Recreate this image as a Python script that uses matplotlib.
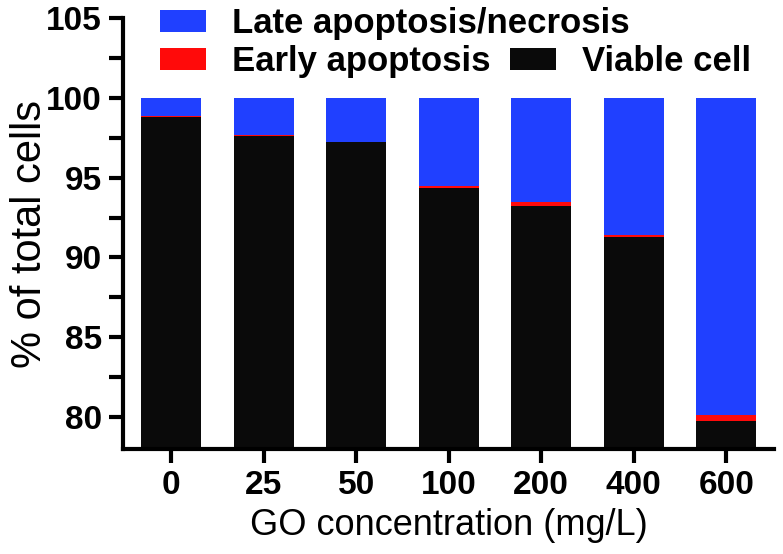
import numpy as np
import matplotlib
matplotlib.use("Agg")
import matplotlib.pyplot as plt
from matplotlib.ticker import MultipleLocator

plt.rcParams['font.family'] = ['Liberation Sans', 'DejaVu Sans']

# data
concentrations = ['0', '25', '50', '100', '200', '400', '600']
viable = [98.8, 97.6, 97.2, 94.35, 93.2, 91.3, 79.8]
early = [0.05, 0.05, 0.05, 0.1, 0.3, 0.1, 0.35]
late = [100 - v - e for v, e in zip(viable, early)]

blue = '#2040ff'
red = '#ff0a0a'
black = '#0a0a0a'

fig = plt.figure(figsize=(7.83, 5.54), dpi=100)
ax = fig.add_axes([0.157, 0.189, 0.832, 0.779])

x = np.arange(len(concentrations))
w = 0.65
b1 = ax.bar(x, viable, w, color=black, label='Viable cell')
b2 = ax.bar(x, early, w, bottom=viable, color=red, label='Early apoptosis')
b3 = ax.bar(x, late, w, bottom=np.array(viable) + np.array(early), color=blue,
            label='Late apoptosis/necrosis')

ax.set_ylim(78, 105)
ax.set_xlim(-0.52, 6.52)
ax.yaxis.set_major_locator(MultipleLocator(5))
ax.yaxis.set_minor_locator(MultipleLocator(2.5))
ax.set_xticks(x)
ax.set_xticklabels(concentrations)

for s in ['top', 'right']:
    ax.spines[s].set_visible(False)
for s in ['left', 'bottom']:
    ax.spines[s].set_linewidth(3)

ax.tick_params(axis='both', which='major', width=3, length=10, labelsize=24, pad=5)
ax.tick_params(axis='y', which='minor', width=3, length=10)
for lab in ax.get_xticklabels() + ax.get_yticklabels():
    lab.set_fontweight('bold')

ax.set_xlabel('GO concentration (mg/L)', fontsize=26, labelpad=5)
ax.set_ylabel('% of total cells', fontsize=30)
ax.yaxis.set_label_coords(-0.112, 0.5)

# legend: two rows, laid out like the original
lprops = {'weight': 'bold', 'size': 25}
common = dict(loc='upper left', frameon=False, prop=lprops, borderpad=0, borderaxespad=0,
              handlelength=1.33, handleheight=0.6, handletextpad=0.75, columnspacing=0.55)
leg1 = fig.legend([b3], ['Late apoptosis/necrosis'], bbox_to_anchor=(0.204, 0.987), **common)
leg2 = fig.legend([b2, b1], ['Early apoptosis', 'Viable cell'], ncol=2,
                  bbox_to_anchor=(0.204, 0.918), **common)

fig.savefig('out.png', dpi=100)
